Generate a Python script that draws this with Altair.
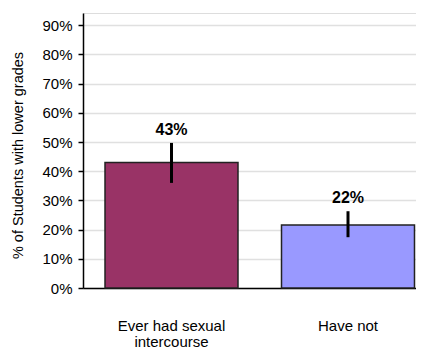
import altair as alt
import pandas as pd

categories = ["Ever had sexual intercourse", "Have not"]
values = [0.43, 0.216]
err_low = [0.36, 0.174]
err_high = [0.497, 0.263]
labels = ["43%", "22%"]
colors = ["#993366", "#9999FF"]
y_ticks = [0, 0.1, 0.2, 0.3, 0.4, 0.5, 0.6, 0.7, 0.8, 0.9]

df = pd.DataFrame({
    "cat": categories,
    "val": values,
    "lo": err_low,
    "hi": err_high,
    "lab": labels,
    "col": colors,
})

FONT = "Liberation Sans"

x_axis = alt.Axis(
    labelAngle=0,
    ticks=False,
    tickSize=0,
    domainColor="#000000",
    domainWidth=1.5,
    labelFont=FONT,
    labelFontSize=15,
    labelColor="#000000",
    labelPadding=30,
    labelLineHeight=16,
    labelExpr="datum.label == 'Ever had sexual intercourse' ? ['Ever had sexual', 'intercourse'] : datum.label",
    grid=False,
)
x_scale = alt.Scale(paddingInner=0.2465, paddingOuter=0.0666, align=0.936)

y_scale = alt.Scale(domain=[0, 0.942], nice=False, zero=True)
y_axis = alt.Axis(
    values=y_ticks,
    format=".0%",
    labelOverlap=False,
    labelFlush=False,
    labelFont=FONT,
    labelFontSize=15,
    labelColor="#000000",
    labelPadding=6,
    tickSize=5,
    tickColor="#000000",
    tickWidth=1.5,
    domainColor="#000000",
    domainWidth=1.5,
    gridColor="#e0e0e0",
    gridWidth=1.5,
    titleFont=FONT,
    titleFontSize=14.5,
    titleFontWeight="normal",
    titleColor="#000000",
    titleX=-65,
    titleY=142,
    titleAngle=270,
    titleAlign="center",
    titleBaseline="middle",
)
Y_TITLE = "% of Students with lower grades"


def xenc():
    return alt.X("cat:N", sort=categories, title=None, scale=x_scale, axis=x_axis)


def yenc(field):
    return alt.Y(field, scale=y_scale, title=Y_TITLE, axis=y_axis)


bars = alt.Chart(df).mark_bar(stroke="#222222", strokeWidth=1.5).encode(
    x=xenc(),
    y=yenc("val:Q"),
    color=alt.Color("col:N", scale=None, legend=None),
)

errs = alt.Chart(df).mark_rule(color="#000000", strokeWidth=3).encode(
    x=xenc(),
    y=yenc("lo:Q"),
    y2="hi:Q",
)

texts = alt.Chart(df).mark_text(
    font=FONT, fontSize=16, fontWeight="bold", color="#000000", baseline="bottom", dy=-5
).encode(
    x=xenc(),
    y=yenc("hi:Q"),
    text="lab:N",
)

chart = (
    alt.layer(bars, errs, texts)
    .properties(
        width=333,
        height=275,
        autosize=alt.AutoSizeParams(type="none"),
        padding={"left": 75, "top": 5, "right": 0, "bottom": 60},
    )
    .configure_view(stroke=None)
    .configure(background="#ffffff")
)

chart.save("out.html", embed_options={"renderer": "svg", "actions": False})
